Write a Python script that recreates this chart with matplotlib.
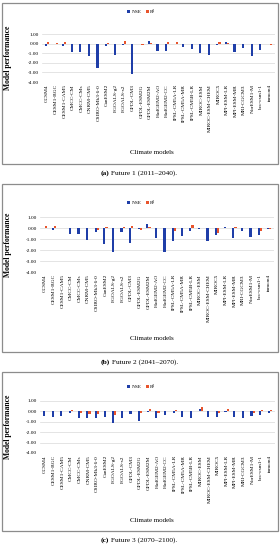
import matplotlib
matplotlib.use("Agg")
import matplotlib.pyplot as plt
import numpy as np
from matplotlib.patches import Rectangle

models = ["CCSM4", "CESM1-BGC", "CESM1-CAM5", "CMCC-CM", "CMCC-CMs", "CNRM-CM5",
          "CSIRO-Mk3-6-0", "CanESM2", "FGOALS-g2", "FGOALS-s2", "GFDL-CM3",
          "GFDL-ESM2G", "GFDL-ESM2M", "HadGEM2-AO", "HadGEM2-CC", "IPSL-CM5A-LR",
          "IPSL-CM5A-MR", "IPSL-CM5B-LR", "MIROC-ESM", "MIROC-ESM-CHEM", "MIROC5",
          "MPI-ESM-LR", "MPI-ESM-MR", "MRI-CGCM3", "NorESM1-M", "bcc-csm1-1", "inmcm4"]

nse_f1 = [-0.30, -0.05, -0.30, -0.90, -0.90, -1.30, -2.55, -0.30, -1.20, -0.15, -3.15,
          -0.05, 0.25, -0.80, -0.80, -0.05, -0.40, -0.60, -1.00, -1.15, -0.15,
          0.15, -0.90, -0.50, -1.25, -0.65, -0.05]
r2_f1 = [0.15, 0.02, 0.15, 0.00, 0.00, 0.00, 0.00, 0.10, 0.00, 0.25, 0.00,
         -0.10, 0.10, 0.00, 0.15, 0.20, -0.05, 0.00, 0.00, 0.00, 0.20,
         0.05, 0.00, 0.00, -0.05, 0.00, -0.15]

nse_f2 = [0.00, -0.20, -0.02, -0.50, -0.55, -1.05, -0.35, -1.45, -2.20, -0.40, -1.40,
          -0.05, 0.35, -0.95, -2.15, -1.15, -0.70, -0.30, -0.05, -1.15, -0.60,
          0.10, -0.95, -0.25, -0.85, -0.65, -0.05]
r2_f2 = [0.15, 0.20, 0.00, 0.00, 0.00, 0.00, -0.20, 0.05, 0.00, 0.05, 0.20,
         -0.15, 0.05, 0.00, 0.00, -0.25, 0.00, 0.25, 0.03, 0.00, -0.45,
         0.00, 0.05, 0.00, 0.00, -0.30, -0.10]

nse_f3 = [-0.40, -0.50, -0.45, -0.15, -0.65, -0.60, -0.65, -0.55, -1.10, -0.65, -0.25,
          -0.90, -0.05, -0.65, -0.30, -0.20, -0.50, -0.65, 0.20, -0.50, -0.55,
          -0.10, -0.55, -0.60, -0.45, -0.30, -0.20]
r2_f3 = [0.00, 0.00, 0.00, 0.10, -0.20, -0.25, -0.25, 0.00, -0.35, 0.00, 0.00,
         -0.20, 0.25, -0.20, 0.00, 0.10, 0.00, 0.00, 0.45, 0.00, -0.20,
         0.20, 0.00, 0.00, -0.20, 0.10, 0.10]

yticks = [1.0, 0.0, -1.0, -2.0, -3.0, -4.0]
series_names = ["NSE", "R²"]
panel_bold = ["(a)", "(b)", "(c)"]
panel_text = [" Future 1 (2011–2040).", " Future 2 (2041–2070).", " Future 3 (2070–2100)."]

W, H = 280, 550
plt.rcParams['font.family'] = ['Liberation Serif', 'DejaVu Serif']
fig = plt.figure(figsize=(W / 100, H / 100), dpi=100)

blue = "#1f3ea8"
red = "#e8542c"

panels = [
    dict(box=(2, 3, 278, 164), ax=(42, 34, 275, 82), leg=12, xl=153, cap=173,
         nse=nse_f1, r2=r2_f1),
    dict(box=(2, 184, 278, 352), ax=(40, 217, 274, 272), leg=203, xl=339, cap=362,
         nse=nse_f2, r2=r2_f2),
    dict(box=(2, 372, 278, 531), ax=(40, 401, 275, 453), leg=387, xl=520, cap=540,
         nse=nse_f3, r2=r2_f3),
]

renderer = fig.canvas.get_renderer()
x = np.arange(len(models))
bw = 0.25
for i, p in enumerate(panels):
    bx0, by0, bx1, by1 = p["box"]
    fig.patches.append(Rectangle((bx0 / W, 1 - by1 / H), (bx1 - bx0) / W, (by1 - by0) / H,
                                 transform=fig.transFigure, fill=False,
                                 edgecolor="#8c8c8c", linewidth=0.9))
    ax0, ay0, ax1, ay1 = p["ax"]
    ax = fig.add_axes([ax0 / W, 1 - ay1 / H, (ax1 - ax0) / W, (ay1 - ay0) / H])
    h1 = ax.bar(x - bw / 2, p["nse"], width=bw, color=blue, label=series_names[0], zorder=3)
    h2 = ax.bar(x + bw / 2, p["r2"], width=bw, color=red, label=series_names[1], zorder=3)
    ax.set_ylim(-4, 1)
    ax.set_xlim(-0.6, len(models) - 0.4)
    ax.set_yticks(yticks)
    ax.set_yticklabels([f"{v:.2f}" for v in yticks], fontsize=3.8)
    ax.set_xticks(x)
    ax.set_xticklabels(models, rotation=90, fontsize=3.9)
    ax.tick_params(length=0, pad=1.5)
    ax.tick_params(axis="y", pad=2.5)
    ax.grid(axis="y", color="#d9d9d9", linewidth=0.5, zorder=0)
    for s in ax.spines.values():
        s.set_visible(False)
    ax.set_ylabel("Model performance", fontsize=5.5, fontweight="bold")
    ax.yaxis.set_label_coords(-(ax0 - 12) / (ax1 - ax0), 0.5)
    fig.text(152 / W, 1 - p["xl"] / H, "Climate models", ha="center", va="center",
             fontsize=5.0)
    fig.legend(handles=[h1, h2], labels=series_names, loc="center",
               bbox_to_anchor=(141 / W, 1 - p["leg"] / H), ncol=2, frameon=False,
               fontsize=3.8, handlelength=0.6, handleheight=0.6,
               columnspacing=0.8, handletextpad=0.3)
    # caption: bold label followed by regular text, centred as a whole
    yc = 1 - p["cap"] / H
    tb = fig.text(0, yc, panel_bold[i], ha="left", va="center", fontsize=5.3,
                  fontweight="bold")
    tr = fig.text(0, yc, panel_text[i], ha="left", va="center", fontsize=5.3)
    wb = tb.get_window_extent(renderer).width
    wr = tr.get_window_extent(renderer).width
    start = 139 - (wb + wr) / 2
    tb.set_x(start / W)
    tr.set_x((start + wb) / W)

fig.savefig("out.png", dpi=100)
